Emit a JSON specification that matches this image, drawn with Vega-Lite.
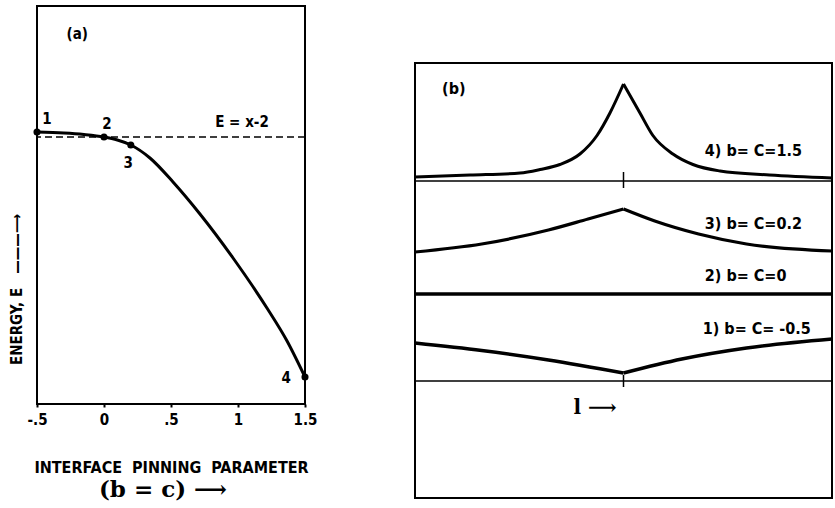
{
  "$schema": "https://vega.github.io/schema/vega-lite/v6.json",
  "background": "white",
  "padding": {"left": 8, "top": 5, "right": 3, "bottom": 0},
  "spacing": 110,
  "bounds": "flush",
  "config": {
    "font": "DejaVu Sans Condensed",
    "view": {"stroke": "black", "strokeWidth": 2}
  },
  "hconcat": [
    {
      "width": 268,
      "height": 398,
      "view": {"stroke": "black", "strokeWidth": 2},
      "title": {"text": "(b = c) ⟶", "orient": "bottom", "font": "DejaVu Serif", "fontSize": 23, "fontWeight": "bold", "offset": 4, "dx": -8, "color": "black"},
      "layer": [
        {
          "data": {"values": [{"E": -2}]},
          "mark": {"type": "rule", "strokeDash": [7, 4], "strokeWidth": 1.5, "color": "black"},
          "encoding": {
            "y": {"field": "E", "type": "quantitative", "scale": {"domain": [-4.67, -0.69], "nice": false, "zero": false},
              "axis": {"orient": "left", "labels": false, "ticks": false, "domain": false, "grid": false,
                "title": "ENERGY,\u00a0E\u00a0\u00a0\u00a0———⟶", "titleFont": "DejaVu Sans Condensed", "titleFontSize": 15, "titleFontWeight": "bold",
                "titleColor": "black", "titlePadding": 13, "titleY": 283, "titleAlign": "center"}}
          }
        },
        {
          "data": {"values": [
            {"x": -0.5, "E": -1.95}, {"x": -0.3, "E": -1.96}, {"x": -0.15, "E": -1.975}, {"x": 0, "E": -2.0},
            {"x": 0.1, "E": -2.03}, {"x": 0.2, "E": -2.08}, {"x": 0.343, "E": -2.21}, {"x": 0.515, "E": -2.45},
            {"x": 0.716, "E": -2.77}, {"x": 0.963, "E": -3.21}, {"x": 1.216, "E": -3.71}, {"x": 1.366, "E": -4.04},
            {"x": 1.5, "E": -4.4}
          ]},
          "mark": {"type": "line", "strokeWidth": 3, "color": "black", "interpolate": "monotone"},
          "encoding": {
            "x": {"field": "x", "type": "quantitative", "scale": {"domain": [-0.5, 1.5], "nice": false, "zero": false},
              "axis": {"orient": "bottom", "values": [-0.5, 0, 0.5, 1, 1.5],
                "labelExpr": "datum.value == -0.5 ? '-.5' : datum.value == 0.5 ? '.5' : datum.value == 0 ? '0' : datum.value == 1 ? '1' : '1.5'",
                "domain": false, "grid": false, "ticks": true, "tickSize": 3, "tickColor": "black", "tickWidth": 2,
                "labelFont": "DejaVu Sans Condensed", "labelFontWeight": "bold", "labelFontSize": 15, "labelColor": "black",
                "labelPadding": 5, "labelFlush": false,
                "title": "INTERFACE\u00a0\u00a0PINNING\u00a0\u00a0PARAMETER", "titleFont": "DejaVu Sans Condensed", "titleFontSize": 16,
                "titleFontWeight": "bold", "titleColor": "black", "titlePadding": 32}},
            "y": {"field": "E", "type": "quantitative",
              "axis": {"orient": "left", "labels": false, "ticks": false, "domain": false, "grid": false,
                "title": "ENERGY,\u00a0E\u00a0\u00a0\u00a0———⟶", "titleFont": "DejaVu Sans Condensed", "titleFontSize": 15, "titleFontWeight": "bold",
                "titleColor": "black", "titlePadding": 13, "titleY": 283, "titleAlign": "center"}}
          }
        },
        {
          "data": {"values": [
            {"x": -0.5, "E": -1.95, "n": "1"}, {"x": 0, "E": -2.0, "n": "2"},
            {"x": 0.2, "E": -2.08, "n": "3"}, {"x": 1.5, "E": -4.4, "n": "4"}
          ]},
          "mark": {"type": "circle", "color": "black", "opacity": 1},
          "encoding": {
            "x": {"field": "x", "type": "quantitative"},
            "y": {"field": "E", "type": "quantitative"},
            "size": {"field": "n", "type": "ordinal", "scale": {"domain": ["1", "2", "3", "4"], "range": [50, 50, 50, 110]}, "legend": null}
          }
        },
        {
          "data": {"values": [
            {"x": -0.2, "E": -0.97, "t": "(a)"},
            {"x": 1.03, "E": -1.85, "t": "E = x-2"},
            {"x": -0.425, "E": -1.82, "t": "1"},
            {"x": 0.022, "E": -1.87, "t": "2"},
            {"x": 0.18, "E": -2.26, "t": "3"},
            {"x": 1.36, "E": -4.41, "t": "4"}
          ]},
          "mark": {"type": "text", "font": "DejaVu Sans Condensed", "fontWeight": "bold", "fontSize": 15, "color": "black", "align": "center", "baseline": "middle"},
          "encoding": {
            "x": {"field": "x", "type": "quantitative"},
            "y": {"field": "E", "type": "quantitative"},
            "text": {"field": "t"}
          }
        }
      ]
    },
    {
      "width": 417,
      "height": 492,
      "view": {"stroke": null},
      "layer": [
        {
          "data": {"values": [{"x0": -1, "x1": 1, "y0": 0, "y1": 8.7}]},
          "mark": {"type": "rect", "fillOpacity": 0, "stroke": "black", "strokeWidth": 2},
          "encoding": {
            "x": {"field": "x0", "type": "quantitative", "scale": {"domain": [-1, 1], "nice": false, "zero": false}, "axis": null},
            "x2": {"field": "x1"},
            "y": {"field": "y0", "type": "quantitative", "scale": {"domain": [0, 9.84], "nice": false, "zero": false}, "axis": null},
            "y2": {"field": "y1"}
          }
        },
        {
          "data": {"values": [{"y": 6.34}, {"y": 2.34}]},
          "mark": {"type": "rule", "color": "black", "strokeWidth": 1.5},
          "encoding": {"y": {"field": "y", "type": "quantitative", "axis": null}}
        },
        {
          "data": {"values": [{"x": 0, "ya": 6.52, "yb": 6.2}, {"x": 0, "ya": 2.46, "yb": 2.22}]},
          "mark": {"type": "rule", "color": "black", "strokeWidth": 1.5},
          "encoding": {
            "x": {"field": "x", "type": "quantitative", "axis": null},
            "y": {"field": "ya", "type": "quantitative", "axis": null},
            "y2": {"field": "yb"}
          }
        },
        {
          "data": {"values": [
            {"s": "4", "h": "L", "x": -1.0, "y": 6.42}, {"s": "4", "h": "L", "x": -0.736, "y": 6.46}, {"s": "4", "h": "L", "x": -0.496, "y": 6.5},
            {"s": "4", "h": "L", "x": -0.4, "y": 6.57}, {"s": "4", "h": "L", "x": -0.305, "y": 6.67}, {"s": "4", "h": "L", "x": -0.209, "y": 6.88},
            {"s": "4", "h": "L", "x": -0.127, "y": 7.25}, {"s": "4", "h": "L", "x": -0.065, "y": 7.7}, {"s": "4", "h": "L", "x": 0, "y": 8.28},
            {"s": "4", "h": "R", "x": 0, "y": 8.28}, {"s": "4", "h": "R", "x": 0.079, "y": 7.7}, {"s": "4", "h": "R", "x": 0.141, "y": 7.25},
            {"s": "4", "h": "R", "x": 0.237, "y": 6.88}, {"s": "4", "h": "R", "x": 0.333, "y": 6.67}, {"s": "4", "h": "R", "x": 0.463, "y": 6.54},
            {"s": "4", "h": "R", "x": 0.7, "y": 6.46}, {"s": "4", "h": "R", "x": 1.0, "y": 6.4},
            {"s": "3", "h": "L", "x": -1.0, "y": 4.92}, {"s": "3", "h": "L", "x": -0.68, "y": 5.08}, {"s": "3", "h": "L", "x": -0.36, "y": 5.36},
            {"s": "3", "h": "L", "x": -0.17, "y": 5.58}, {"s": "3", "h": "L", "x": 0, "y": 5.78},
            {"s": "3", "h": "R", "x": 0, "y": 5.78}, {"s": "3", "h": "R", "x": 0.15, "y": 5.54},
            {"s": "3", "h": "R", "x": 0.36, "y": 5.28}, {"s": "3", "h": "R", "x": 0.59, "y": 5.08}, {"s": "3", "h": "R", "x": 1.0, "y": 4.94},
            {"s": "2", "h": "L", "x": -1.0, "y": 4.08}, {"s": "2", "h": "L", "x": 1.0, "y": 4.08},
            {"s": "1", "h": "L", "x": -1.0, "y": 3.1}, {"s": "1", "h": "L", "x": -0.68, "y": 2.95}, {"s": "1", "h": "L", "x": -0.36, "y": 2.76},
            {"s": "1", "h": "L", "x": 0, "y": 2.5},
            {"s": "1", "h": "R", "x": 0, "y": 2.5}, {"s": "1", "h": "R", "x": 0.28, "y": 2.78}, {"s": "1", "h": "R", "x": 0.59, "y": 3.0},
            {"s": "1", "h": "R", "x": 1.0, "y": 3.18}
          ]},
          "mark": {"type": "line", "color": "black", "strokeJoin": "miter", "strokeCap": "butt", "interpolate": "monotone"},
          "encoding": {
            "x": {"field": "x", "type": "quantitative", "axis": null},
            "y": {"field": "y", "type": "quantitative", "axis": null},
            "detail": [{"field": "s", "type": "nominal"}, {"field": "h", "type": "nominal"}],
            "strokeWidth": {"field": "s", "type": "ordinal", "scale": {"domain": ["1", "2", "3", "4"], "range": [3.5, 3, 4, 7]}, "legend": null}
          }
        },
        {
          "data": {"values": [
            {"x": -0.87, "y": 8.18, "t": "(b)"},
            {"x": 0.39, "y": 6.94, "t": "4)  b= C=1.5"},
            {"x": 0.39, "y": 5.48, "t": "3)  b= C=0.2"},
            {"x": 0.39, "y": 4.44, "t": "2)  b= C=0"},
            {"x": 0.38, "y": 3.38, "t": "1)  b= C= -0.5"}
          ]},
          "mark": {"type": "text", "font": "DejaVu Sans Condensed", "fontWeight": "bold", "fontSize": 16, "color": "black", "align": "left", "baseline": "middle"},
          "encoding": {
            "x": {"field": "x", "type": "quantitative", "axis": null},
            "y": {"field": "y", "type": "quantitative", "axis": null},
            "text": {"field": "t"}
          }
        },
        {
          "data": {"values": [{"x": -0.24, "y": 1.8, "t": "l  ⟶"}]},
          "mark": {"type": "text", "font": "DejaVu Serif", "fontWeight": "bold", "fontSize": 20, "color": "black", "align": "left", "baseline": "middle"},
          "encoding": {
            "x": {"field": "x", "type": "quantitative", "axis": null},
            "y": {"field": "y", "type": "quantitative", "axis": null},
            "text": {"field": "t"}
          }
        }
      ]
    }
  ]
}
